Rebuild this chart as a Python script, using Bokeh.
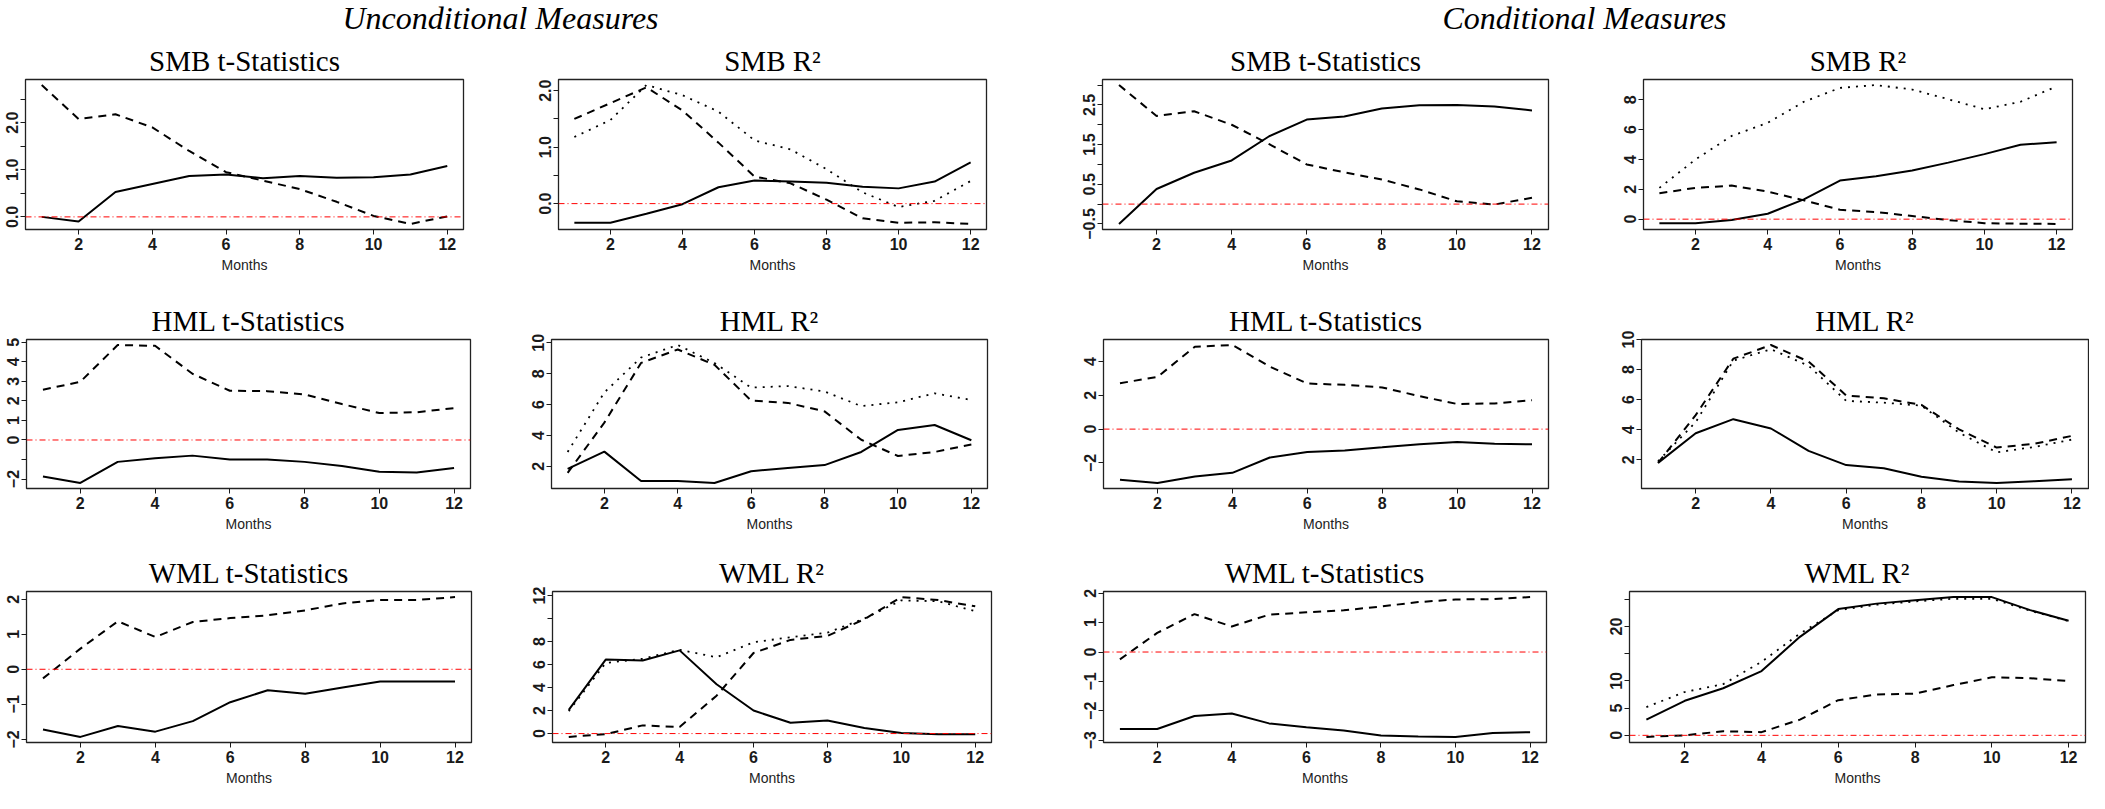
import numpy as np
from bokeh.plotting import figure
from bokeh.layouts import column, row
from bokeh.models import Range1d, FixedTicker, Span, Label
from bokeh.embed import file_html
from bokeh.resources import INLINE

months = list(range(1, 13))

# ---------------- Unconditional measures ----------------
smb_t_unc_solid = [0.00, -0.10, 0.53, 0.70, 0.87, 0.90, 0.82, 0.87, 0.83, 0.84, 0.90, 1.08]
smb_t_unc_dash = [2.80, 2.08, 2.18, 1.90, 1.40, 0.95, 0.77, 0.59, 0.32, 0.02, -0.15, 0.01]

smb_r2_unc_solid = [-0.34, -0.34, -0.18, -0.01, 0.29, 0.41, 0.39, 0.37, 0.30, 0.27, 0.39, 0.73]
smb_r2_unc_dash = [1.50, 1.78, 2.06, 1.65, 1.08, 0.48, 0.36, 0.07, -0.26, -0.34, -0.33, -0.36]
smb_r2_unc_dot = [1.18, 1.48, 2.10, 1.92, 1.63, 1.12, 0.96, 0.61, 0.20, -0.06, 0.05, 0.40]

hml_t_unc_solid = [-1.87, -2.20, -1.12, -0.93, -0.80, -1.00, -1.00, -1.12, -1.33, -1.63, -1.66, -1.43]
hml_t_unc_dash = [2.57, 2.98, 4.86, 4.82, 3.39, 2.52, 2.50, 2.33, 1.84, 1.38, 1.42, 1.63]

hml_r2_unc_solid = [1.83, 2.95, 1.05, 1.05, 0.92, 1.68, 1.89, 2.08, 2.93, 4.36, 4.68, 3.69]
hml_r2_unc_dash = [1.58, 4.83, 8.70, 9.57, 8.58, 6.26, 6.11, 5.56, 3.72, 2.67, 2.93, 3.42]
hml_r2_unc_dot = [2.93, 6.79, 9.05, 9.86, 8.70, 7.10, 7.20, 6.85, 5.90, 6.15, 6.73, 6.30]

wml_t_unc_solid = [-1.72, -1.93, -1.62, -1.78, -1.48, -0.94, -0.60, -0.70, -0.52, -0.35, -0.35, -0.35]
wml_t_unc_dash = [-0.26, 0.59, 1.37, 0.92, 1.35, 1.46, 1.54, 1.68, 1.88, 1.98, 1.98, 2.06]

wml_r2_unc_solid = [2.06, 6.43, 6.35, 7.23, 4.29, 2.00, 0.94, 1.14, 0.48, 0.05, -0.05, -0.05]
wml_r2_unc_dash = [-0.29, -0.05, 0.71, 0.57, 3.29, 7.00, 8.14, 8.49, 9.94, 11.86, 11.60, 11.06]
wml_r2_unc_dot = [1.95, 6.14, 6.50, 7.28, 6.63, 7.94, 8.37, 8.77, 10.00, 11.57, 11.50, 10.63]

# ---------------- Conditional measures ----------------
smb_t_con_solid = [-0.50, 0.38, 0.79, 1.10, 1.71, 2.13, 2.21, 2.41, 2.49, 2.50, 2.46, 2.36]
smb_t_con_dash = [3.00, 2.22, 2.34, 2.00, 1.51, 1.00, 0.80, 0.62, 0.37, 0.07, -0.01, 0.16]

smb_r2_con_solid = [-0.27, -0.27, -0.06, 0.36, 1.33, 2.59, 2.88, 3.26, 3.79, 4.36, 4.99, 5.15]
smb_r2_con_dash = [1.74, 2.10, 2.25, 1.85, 1.26, 0.63, 0.48, 0.21, -0.06, -0.27, -0.30, -0.32]
smb_r2_con_dot = [2.10, 4.00, 5.58, 6.46, 7.87, 8.80, 8.99, 8.69, 8.04, 7.37, 7.87, 8.90]

hml_t_con_solid = [-3.00, -3.19, -2.81, -2.59, -1.68, -1.36, -1.26, -1.08, -0.89, -0.77, -0.87, -0.90]
hml_t_con_dash = [2.72, 3.09, 4.88, 4.98, 3.70, 2.70, 2.62, 2.47, 1.95, 1.49, 1.52, 1.71]

hml_r2_con_solid = [1.79, 3.76, 4.70, 4.08, 2.59, 1.64, 1.43, 0.87, 0.55, 0.45, 0.57, 0.70]
hml_r2_con_dash = [1.79, 4.97, 8.73, 9.64, 8.54, 6.28, 6.09, 5.65, 4.02, 2.81, 3.06, 3.59]
hml_r2_con_dot = [1.90, 4.50, 8.60, 9.36, 8.26, 5.92, 5.80, 5.60, 3.80, 2.49, 2.85, 3.34]

wml_t_con_solid = [-2.62, -2.62, -2.18, -2.09, -2.43, -2.56, -2.67, -2.84, -2.88, -2.89, -2.76, -2.73]
wml_t_con_dash = [-0.25, 0.65, 1.29, 0.87, 1.27, 1.35, 1.42, 1.55, 1.70, 1.79, 1.80, 1.87]

wml_r2_con_solid = [2.88, 6.34, 8.65, 11.80, 18.10, 23.20, 24.20, 24.80, 25.40, 25.40, 23.00, 21.05]
wml_r2_con_dash = [-0.29, 0.00, 0.75, 0.58, 2.88, 6.46, 7.50, 7.67, 9.23, 10.67, 10.50, 9.97]
wml_r2_con_dot = [5.19, 7.96, 9.40, 13.50, 18.70, 23.00, 24.00, 24.60, 25.10, 25.10, 22.90, 21.00]

# ---------------- Titles and tick labels ----------------
headers = ["Unconditional Measures", "Conditional Measures"]
x_ticks = [2, 4, 6, 8, 10, 12]
x_label = "Months"

panels = [
    # row 1
    dict(title="SMB t-Statistics", lines=[smb_t_unc_solid, smb_t_unc_dash, None],
         yt=[0, 1, 2], yl=["0.0", "1.0", "2.0"], ym=[0.5, 1.5, 2.5]),
    dict(title="SMB R²", lines=[smb_r2_unc_solid, smb_r2_unc_dash, smb_r2_unc_dot],
         yt=[0, 1, 2], yl=["0.0", "1.0", "2.0"], ym=[0.5, 1.5]),
    dict(title="SMB t-Statistics", lines=[smb_t_con_solid, smb_t_con_dash, None],
         yt=[-0.5, 0.5, 1.5, 2.5], yl=["−0.5", "0.5", "1.5", "2.5"], ym=[0, 1, 2, 3]),
    dict(title="SMB R²", lines=[smb_r2_con_solid, smb_r2_con_dash, smb_r2_con_dot],
         yt=[0, 2, 4, 6, 8], yl=["0", "2", "4", "6", "8"], ym=[]),
    # row 2
    dict(title="HML t-Statistics", lines=[hml_t_unc_solid, hml_t_unc_dash, None],
         yt=[-2, 0, 1, 2, 3, 4, 5], yl=["−2", "0", "1", "2", "3", "4", "5"], ym=[-1]),
    dict(title="HML R²", lines=[hml_r2_unc_solid, hml_r2_unc_dash, hml_r2_unc_dot],
         yt=[2, 4, 6, 8, 10], yl=["2", "4", "6", "8", "10"], ym=[]),
    dict(title="HML t-Statistics", lines=[hml_t_con_solid, hml_t_con_dash, None],
         yt=[-2, 0, 2, 4], yl=["−2", "0", "2", "4"], ym=[]),
    dict(title="HML R²", lines=[hml_r2_con_solid, hml_r2_con_dash, hml_r2_con_dot],
         yt=[2, 4, 6, 8, 10], yl=["2", "4", "6", "8", "10"], ym=[]),
    # row 3
    dict(title="WML t-Statistics", lines=[wml_t_unc_solid, wml_t_unc_dash, None],
         yt=[-2, -1, 0, 1, 2], yl=["−2", "−1", "0", "1", "2"], ym=[]),
    dict(title="WML R²", lines=[wml_r2_unc_solid, wml_r2_unc_dash, wml_r2_unc_dot],
         yt=[0, 2, 4, 6, 8, 12], yl=["0", "2", "4", "6", "8", "12"], ym=[10]),
    dict(title="WML t-Statistics", lines=[wml_t_con_solid, wml_t_con_dash, None],
         yt=[-3, -2, -1, 0, 1, 2], yl=["−3", "−2", "−1", "0", "1", "2"], ym=[]),
    dict(title="WML R²", lines=[wml_r2_con_solid, wml_r2_con_dash, wml_r2_con_dot],
         yt=[0, 5, 10, 20], yl=["0", "5", "10", "20"], ym=[15, 25]),
]

# ---------------- Layout geometry (page pixels) ----------------
col_bounds = [(8, 522), (522, 1068), (1068, 1604), (1604, 2097)]
row_bounds = [(44, 298), (298, 552), (552, 801)]
row_shift = [0, -2, -7]
frames = [  # left, right, top, bottom
    (33, 471, 84, 237), (565.7, 994, 87.3, 237), (1110.3, 1555.7, 87.3, 246), (1651.3, 2080, 86, 244.3),
    (33.7, 477.7, 343.7, 498), (559.3, 995, 347.7, 498.7), (1110.7, 1556.3, 346.7, 502.3), (1648.7, 2095.7, 349.3, 505),
    (34, 479, 601, 756.7), (559.7, 999, 606, 759), (1110.7, 1554.3, 602.3, 758), (1636.7, 2093.3, 597.7, 757.3),
]

SANS = "Liberation Sans"
SERIF = "Liberation Serif"
INK = "#1a1a1a"


def make_panel(i, spec):
    r, c = divmod(i, 4)
    cl, cr = col_bounds[c]
    rt, rb = row_bounds[r]
    L, R, T, B = frames[i]
    T += row_shift[r]
    B += row_shift[r]

    series = [s for s in spec["lines"] if s is not None]
    lo = min(min(s) for s in series)
    hi = max(max(s) for s in series)
    pad = 0.04 * (hi - lo)
    xpad = 0.04 * (max(months) - min(months))

    p = figure(width=int(round(cr - cl)), height=int(round(rb - rt)),
               x_range=Range1d(min(months) - xpad, max(months) + xpad),
               y_range=Range1d(lo - pad, hi + pad),
               output_backend="svg", toolbar_location=None, title=spec["title"],
               min_border_left=int(round(L - cl)), min_border_right=max(1, int(round(cr - R))),
               min_border_top=int(round(T - rt)), min_border_bottom=int(round(rb - B)))
    p.title.text_font = SERIF
    p.title.text_font_size = "29px"
    p.title.text_font_style = "normal"
    p.title.text_color = "#000000"
    p.title.align = "center"
    p.title.standoff = 5

    p.grid.visible = False
    p.outline_line_color = "#222222"
    p.outline_line_width = 1.3
    p.background_fill_color = "white"
    p.border_fill_color = "white"

    for ax in (p.xaxis[0], p.yaxis[0]):
        ax.axis_line_color = None
        ax.major_tick_in = 0
        ax.major_tick_out = 5
        ax.minor_tick_in = 0
        ax.minor_tick_out = 5
        ax.major_tick_line_color = INK
        ax.minor_tick_line_color = INK
        ax.major_label_text_font = SANS
        ax.major_label_text_font_size = "16px"
        ax.major_label_text_font_style = "bold"
        ax.major_label_text_color = INK

    p.xaxis.ticker = FixedTicker(ticks=x_ticks)
    p.xaxis.major_label_standoff = 3
    p.xaxis.axis_label = x_label
    p.xaxis.axis_label_text_font = SANS
    p.xaxis.axis_label_text_font_size = "14px"
    p.xaxis.axis_label_text_font_style = "normal"
    p.xaxis.axis_label_text_color = "#222222"
    p.xaxis.axis_label_standoff = 4

    p.yaxis.ticker = FixedTicker(ticks=spec["yt"], minor_ticks=spec["ym"])
    p.yaxis.major_label_overrides = {float(t): lab for t, lab in zip(spec["yt"], spec["yl"])}
    p.yaxis.major_label_orientation = "vertical"
    p.yaxis.major_label_standoff = 2

    solid, dash, dot = spec["lines"]
    if dot is not None:
        p.line(months, dot, line_color="#000000", line_width=1.8, line_dash="2 6")
    p.line(months, dash, line_color="#000000", line_width=2, line_dash="8 6")
    p.line(months, solid, line_color="#000000", line_width=2)

    p.add_layout(Span(location=0, dimension="width", line_color="#ff0000",
                      line_width=1, line_dash="6 3 1 3"))
    return p


figs = [make_panel(i, s) for i, s in enumerate(panels)]

# header strip
hdr = figure(width=2089, height=36, x_range=Range1d(0, 2089), y_range=Range1d(0, 36),
             output_backend="svg", toolbar_location=None, min_border=0)
hdr.axis.visible = False
hdr.grid.visible = False
hdr.outline_line_color = None
hdr_x = [500, 1584]
for hx, txt in zip(hdr_x, headers):
    hdr.add_layout(Label(x=hx, y=19, text=txt, text_font=SERIF, text_font_size="32px",
                         text_font_style="italic", text_align="center", text_baseline="middle",
                         text_color="#000000"))

layout = column(hdr, row(*figs[0:4]), row(*figs[4:8]), row(*figs[8:12]))

open("out.html", "w").write(file_html(layout, INLINE))
